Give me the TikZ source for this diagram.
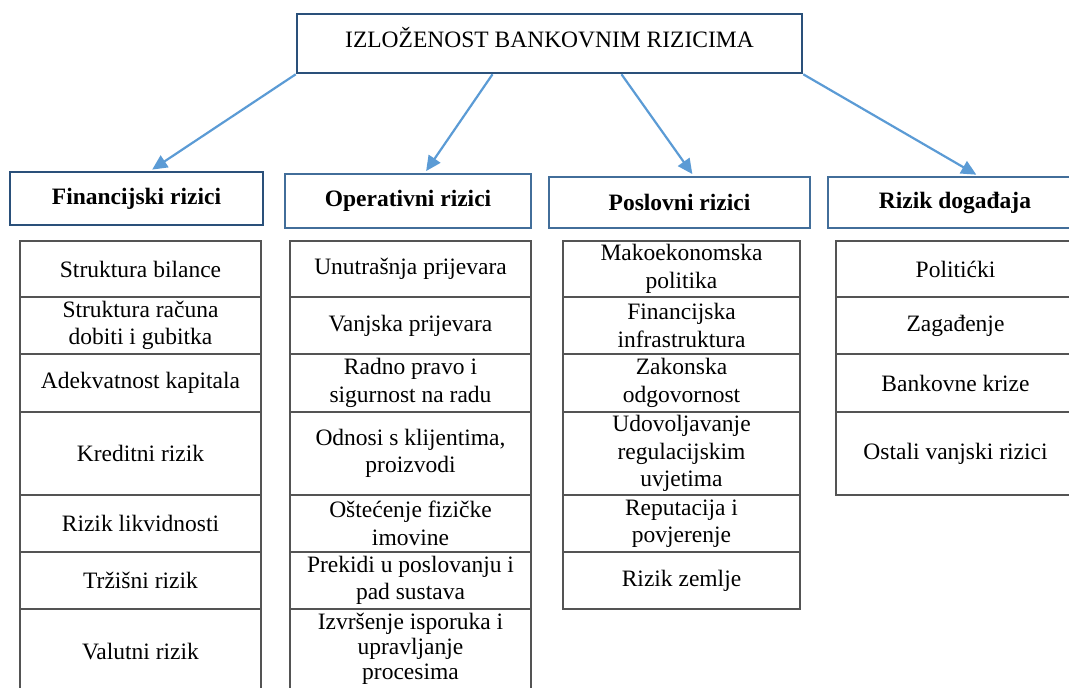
\documentclass[tikz,border=0pt]{standalone}
\usepackage{fontspec}
\setmainfont{Liberation Serif}
\usetikzlibrary{arrows.meta}
\definecolor{hdrblue}{RGB}{66,110,154}
\definecolor{findark}{RGB}{42,80,122}
\definecolor{arrblue}{RGB}{91,155,213}
\definecolor{cellgray}{RGB}{84,84,84}
\newcommand\riskfont{\fontsize{23.5}{27.5}\selectfont}
\tikzset{
  topbox/.style={draw=findark,line width=2.6pt,minimum width=505pt,minimum height=59pt,inner sep=0pt,font=\riskfont,text height=16pt,text depth=9pt},
  hdr/.style={draw=hdrblue,line width=2.6pt,inner sep=0pt,font=\riskfont\bfseries},
  cell/.style={draw=cellgray,line width=1.3pt,inner sep=0pt,align=center,font=\riskfont},
  arr/.style={-{Triangle[length=15pt,width=14pt]},draw=arrblue,fill=arrblue,line width=2.2pt,shorten >=2pt},
}

\begin{document}
\begin{tikzpicture}[x=1pt,y=-1pt]
\useasboundingbox (0,0) rectangle (1069,688);
\clip (0,0) rectangle (1069,688);
\node[topbox] (top) at (549.5,43.5) {IZLOŽENOST BANKOVNIM RIZICIMA};
% category headers
\node[hdr,draw=findark,minimum width=253pt,minimum height=53pt] (fin) at (136.5,198.5) {Financijski rizici};
\node[hdr,minimum width=246pt,minimum height=54pt] (oper) at (408,201) {Operativni rizici};
\node[hdr,minimum width=261pt,minimum height=51pt] (posl) at (679.5,202.5) {Poslovni rizici};
\node[hdr,minimum width=254pt,minimum height=51pt] (dog) at (955,202.5) {Rizik događaja};
% arrows
\draw[arr] (top.south west) -- ([xshift=14pt]fin.north);
\draw[arr] ([xshift=-57pt]top.south) -- ([xshift=17pt]oper.north);
\draw[arr] ([xshift=72pt]top.south) -- ([xshift=14pt]posl.north);
\draw[arr] (top.south east) -- ([xshift=23pt]dog.north);
% tables
\foreach \y/\h/\t [count=\i] in {269/56/{Struktura bilance},325.5/57/{Struktura računa\\dobiti i gubitka},383/58/{Adekvatnost kapitala},453.5/83/{Kreditni rizik},523.5/57/{Rizik likvidnosti},580.5/57/{Tržišni rizik},652/86/{Valutni rizik}}
  \node[cell,minimum width=241pt,minimum height=\h pt] (fin\i) at (140.5,\y) {\t};
\foreach \y/\h/\t [count=\i] in {269/56/{Unutrašnja prijevara},325.5/57/{Vanjska prijevara},383/58/{Radno pravo i\\sigurnost na radu},453.5/83/{Odnosi s klijentima,\\proizvodi},523.5/57/{Oštećenje fizičke\\imovine},580.5/57/{Prekidi u poslovanju i\\pad sustava}}
  \node[cell,minimum width=241pt,minimum height=\h pt] (oper\i) at (410.5,\y) {\t};
\node[cell,minimum width=241pt,minimum height=80pt,font=\fontsize{23.5}{25}\selectfont] (oper7) at (410.5,649) {Izvršenje isporuka i\\upravljanje\\procesima};
\foreach \y/\h/\t [count=\i] in {269/56/{Makoekonomska\\politika},325.5/57/{Financijska\\infrastruktura},383/58/{Zakonska\\odgovornost},453.5/83/{Udovoljavanje\\regulacijskim\\uvjetima},523.5/57/{Reputacija i\\povjerenje},580.5/57/{Rizik zemlje}}
  \node[cell,minimum width=237pt,minimum height=\h pt] (posl\i) at (681.5,\y) {\t};
\foreach \y/\h/\t [count=\i] in {269/56/{Politićki},325.5/57/{Zagađenje},383/58/{Bankovne krize},453.5/83/{Ostali vanjski rizici}}
  \node[cell,minimum width=239pt,minimum height=\h pt] (dog\i) at (955.5,\y) {\t};
\end{tikzpicture}
\end{document}
